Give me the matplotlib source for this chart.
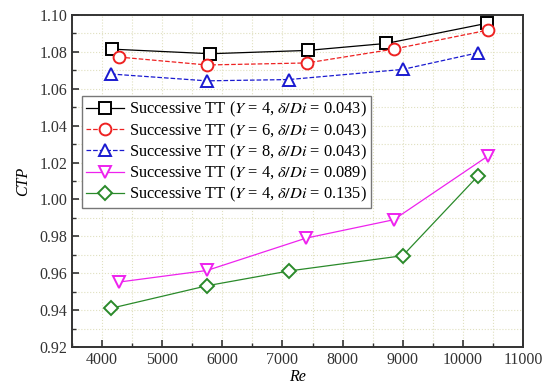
import numpy as np
import matplotlib.pyplot as plt
from matplotlib.ticker import MultipleLocator

plt.rcParams['font.family'] = 'Liberation Serif'
plt.rcParams['mathtext.fontset'] = 'stix'

# dati
re_1 = [4160, 5800, 7420, 8730, 10400]
ctp_1 = [1.0815, 1.0790, 1.0808, 1.0846, 1.0955]
re_2 = [4280, 5745, 7405, 8850, 10415]
ctp_2 = [1.0772, 1.0729, 1.0740, 1.0815, 1.0918]
re_3 = [4150, 5745, 7105, 9000, 10250]
ctp_3 = [1.0680, 1.0643, 1.0650, 1.0705, 1.0795]
re_4 = [4280, 5745, 7390, 8850, 10415]
ctp_4 = [0.9552, 0.9615, 0.9790, 0.9890, 1.0235]
re_5 = [4150, 5745, 7105, 9000, 10250]
ctp_5 = [0.9410, 0.9532, 0.9612, 0.9695, 1.0127]

etichette = ['Successive TT ($Y$ = 4, $\\delta/Di$ = 0.043)',
             'Successive TT ($Y$ = 6, $\\delta/Di$ = 0.043)',
             'Successive TT ($Y$ = 8, $\\delta/Di$ = 0.043)',
             'Successive TT ($Y$ = 4, $\\delta/Di$ = 0.089)',
             'Successive TT ($Y$ = 4, $\\delta/Di$ = 0.135)']

fig = plt.figure(figsize=(5.51, 3.89), dpi=100)
ax = fig.add_axes([72/551, 1-347/389, 451/551, 332/389])

stile = dict(markersize=8.5, markerfacecolor='white', markeredgewidth=1.4, linewidth=0.9)
ax.plot(re_1, ctp_1, '-', marker='s', color='black', label=etichette[0], **stile)
ax.plot(re_2, ctp_2, '--', marker='o', color='#ee2222', label=etichette[1], **stile)
ax.plot(re_3, ctp_3, '--', marker='^', color='#1a1ad0', label=etichette[2], **stile)
ax.plot(re_4, ctp_4, '-', marker='v', color='#ee22ee', label=etichette[3], **stile)
ax.plot(re_5, ctp_5, '-', marker='D', color='#2a8a2a', label=etichette[4],
        markersize=7.5, markerfacecolor='white', markeredgewidth=1.4, linewidth=0.9)

ax.set_xlim(3500, 11000)
ax.set_ylim(0.92, 1.10)
ax.xaxis.set_major_locator(MultipleLocator(1000))
ax.xaxis.set_minor_locator(MultipleLocator(500))
ax.yaxis.set_major_locator(MultipleLocator(0.02))
ax.yaxis.set_minor_locator(MultipleLocator(0.01))
ax.yaxis.set_major_formatter(plt.FormatStrFormatter('%.2f'))

ax.grid(True, which='both', linestyle=':', color='#e0e0c0', linewidth=0.8)
ax.set_axisbelow(True)
ax.tick_params(axis='both', which='major', direction='in', length=5, width=1.2, labelsize=11.5, colors='#333333')
ax.tick_params(axis='both', which='minor', direction='in', length=3, width=1.0, colors='#333333')
for s in ax.spines.values():
    s.set_linewidth(1.4)
    s.set_color('#333333')

ax.set_xlabel('Re', fontsize=11.5, style='italic', labelpad=1)
ax.set_ylabel('CTP', fontsize=11.5, style='italic', labelpad=6)

leg = ax.legend(loc='upper left', bbox_to_anchor=(0.022, 0.756), borderaxespad=0,
                fontsize=11.8, fancybox=False, edgecolor='#777777', framealpha=1,
                handlelength=2.3, handletextpad=0.3, labelspacing=0.12, borderpad=0.25)
leg.get_frame().set_linewidth(1.0)

fig.savefig('out.png', dpi=100)
